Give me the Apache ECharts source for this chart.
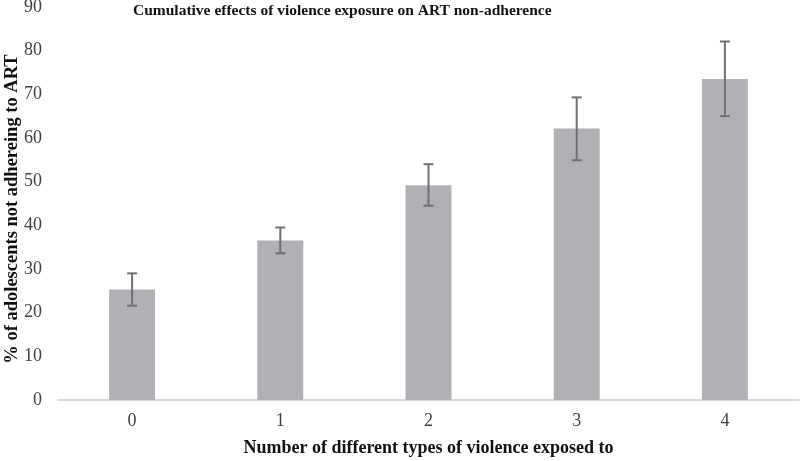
<!DOCTYPE html>
<html><head><meta charset="utf-8">
<script src="https://cdn.jsdelivr.net/npm/echarts@6/dist/echarts.min.js"></script>
<style>html,body{margin:0;padding:0;background:#fff}#c{width:800px;height:461px}</style>
</head><body><div id="c"></div>
<script>
var categories = ['0', '1', '2', '3', '4'];
var values = [25.3, 36.5, 49.2, 62.2, 73.5];
var errLow = [21.6, 33.6, 44.5, 54.9, 65.0];
var errHigh = [29.0, 39.5, 54.0, 69.3, 82.1];
var yAxisTitle = '% of adolescents not adhereing to ART';

var chart = echarts.init(document.getElementById('c'));
var font = '"Liberation Serif", "Times New Roman", serif';
chart.setOption({
  animation: false,
  title: {
    text: 'Cumulative effects of violence exposure on ART non-adherence',
    left: 128, top: -2,
    textStyle: { fontFamily: font, fontWeight: 'bold', fontSize: 15.5, color: '#111' }
  },
  graphic: [{
    type: 'text', x: 12, y: 209, rotation: Math.PI / 2,
    style: { text: yAxisTitle, font: 'bold 18.5px ' + font, fill: '#111',
      align: 'center', verticalAlign: 'middle' }
  }],
  grid: { left: 58, right: 1, top: 7, bottom: 61, outerBoundsMode: 'none', containLabel: false },
  xAxis: {
    type: 'category', data: categories,
    name: 'Number of different types of violence exposed to',
    nameLocation: 'middle', nameGap: 39,
    nameTextStyle: { fontFamily: font, fontWeight: 'bold', fontSize: 18, color: '#111' },
    axisLine: { lineStyle: { color: '#d9d9d9', width: 2 } },
    axisTick: { show: false },
    axisLabel: { fontFamily: font, fontSize: 18, color: '#404040', margin: 12 }
  },
  yAxis: {
    type: 'value', min: 0, max: 90, interval: 10,
    splitLine: { show: false },
    axisLine: { show: false }, axisTick: { show: false },
    axisLabel: { fontFamily: font, fontSize: 18, color: '#404040', margin: 16 }
  },
  series: [{
    type: 'bar', data: values, barWidth: '31%',
    itemStyle: { color: '#b0b1b4' }
  }, {
    type: 'custom',
    data: categories.map(function (c, i) { return [i, errLow[i], errHigh[i]]; }),
    renderItem: function (params, api) {
      var x = api.value(0);
      var lo = api.coord([x, api.value(1)]);
      var hi = api.coord([x, api.value(2)]);
      var hw = 5;
      var style = { stroke: '#707070', lineWidth: 2 };
      return { type: 'group', children: [
        { type: 'line', shape: { x1: hi[0], y1: hi[1], x2: lo[0], y2: lo[1] }, style: style },
        { type: 'line', shape: { x1: hi[0] - hw, y1: hi[1], x2: hi[0] + hw, y2: hi[1] }, style: style },
        { type: 'line', shape: { x1: lo[0] - hw, y1: lo[1], x2: lo[0] + hw, y2: lo[1] }, style: style }
      ]};
    },
    z: 10
  }]
});
</script></body></html>
